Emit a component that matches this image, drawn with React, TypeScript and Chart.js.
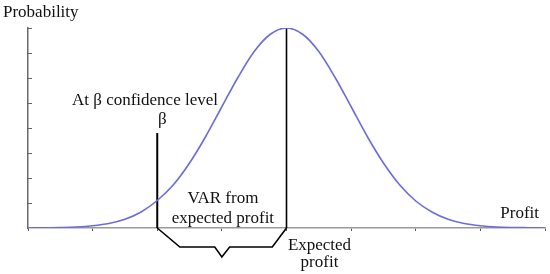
import React, { useEffect, useRef } from "react";
import { Chart, registerables } from "chart.js";

Chart.register(...registerables);

// Profit axis positions (in tick units) and probability readings of the bell curve
const curveX = [0, 0.25, 0.5, 0.75, 1, 1.25, 1.5, 1.75, 2, 2.25, 2.5, 2.75, 3, 3.25, 3.5, 3.75, 4,
  4.25, 4.5, 4.75, 5, 5.25, 5.5, 5.75, 6, 6.25, 6.5, 6.75, 7, 7.25, 7.5, 7.75, 8];
const curveY = [0, 0.01, 0.02, 0.04, 0.09, 0.18, 0.35, 0.64, 1.1, 1.73, 2.6, 3.66, 4.85, 6.03, 7.06, 7.75, 8,
  7.75, 7.06, 6.03, 4.85, 3.66, 2.6, 1.73, 1.08, 0.64, 0.35, 0.18, 0.09, 0.04, 0.02, 0.01, 0];

// β confidence level marker
const betaX = [2, 2];
const betaY = [0, 3.8];

// Expected profit marker
const expectedX = [4, 4];
const expectedY = [0, 8];

// Brace below the axis spanning VAR
const braceX = [2, 2.35, 2.89, 3.0, 3.12, 3.78, 4];
const braceY = [0, -0.76, -0.76, -1.16, -0.76, -0.76, 0];

// Axis tick values
const xTicks = [0, 1, 2, 3, 4, 5, 6, 7, 8];
const yTicks = [1, 2, 3, 4, 5, 6, 7, 8];

const pts = (xs: number[], ys: number[]) => xs.map((x, i) => ({ x, y: ys[i] }));

const FONT = '17px "Liberation Serif", "DejaVu Serif", serif';

const overlayPlugin = {
  id: "overlay",
  afterDatasetsDraw(chart: any) {
    const { ctx, chartArea } = chart;
    const xs = chart.scales.x;
    const ys = chart.scales.y;
    ctx.save();
    // inward y ticks
    ctx.strokeStyle = "#666";
    ctx.lineWidth = 1;
    yTicks.forEach((v) => {
      const py = Math.round(ys.getPixelForValue(v)) + 0.5;
      ctx.beginPath();
      ctx.moveTo(chartArea.left, py);
      ctx.lineTo(chartArea.left + 4, py);
      ctx.stroke();
    });
    // texts
    ctx.fillStyle = "#111";
    ctx.font = FONT;
    ctx.textBaseline = "alphabetic";
    ctx.textAlign = "left";
    ctx.fillText("Probability", 3, 17);
    ctx.fillText("At β confidence level", 72, 104.5);
    ctx.textAlign = "center";
    const bx = xs.getPixelForValue(betaX[0]);
    ctx.fillText("β", bx + 5, 124);
    const vx = xs.getPixelForValue(3);
    ctx.fillText("VAR from", vx + 1, 203);
    ctx.fillText("expected profit", vx + 1, 223);
    const ex = xs.getPixelForValue(expectedX[0]);
    ctx.fillText("Expected", ex + 33, 250);
    ctx.fillText("profit", ex + 33, 267);
    ctx.textAlign = "right";
    ctx.fillText("Profit", 539, 217.5);
    ctx.restore();
  },
};

export default function App() {
  const ref = useRef<HTMLCanvasElement>(null);
  useEffect(() => {
    if (!ref.current) return;
    const chart = new Chart(ref.current, {
      type: "line",
      data: {
        datasets: [
          {
            data: pts(curveX, curveY),
            borderColor: "#6c6cdc",
            borderWidth: 1.6,
            pointRadius: 0,
            cubicInterpolationMode: "monotone",
            fill: false,
          },
          {
            data: pts(betaX, betaY),
            borderColor: "#000",
            borderWidth: 2,
            pointRadius: 0,
            tension: 0,
            clip: false,
          },
          {
            data: pts(expectedX, expectedY),
            borderColor: "#000",
            borderWidth: 1.6,
            pointRadius: 0,
            tension: 0,
            clip: false,
          },
          {
            data: pts(braceX, braceY),
            borderColor: "#000",
            borderWidth: 1.6,
            pointRadius: 0,
            tension: 0,
            clip: false,
          },
        ] as any,
      },
      options: {
        animation: false,
        responsive: false,
        events: [],
        layout: { padding: { top: 28, right: 5, left: 0, bottom: 0 } },
        plugins: { legend: { display: false }, tooltip: { enabled: false } },
        scales: {
          x: {
            type: "linear",
            min: 0,
            max: 8,
            afterBuildTicks: (scale: any) => {
              scale.ticks = xTicks.map((v) => ({ value: v }));
            },
            afterFit: (scale: any) => {
              scale.height = 46;
            },
            ticks: { display: false },
            grid: { drawOnChartArea: false, drawTicks: true, tickLength: 3, color: "#555", lineWidth: 1 },
            border: { display: true, color: "#9a9a9a", width: 1.5 },
          },
          y: {
            type: "linear",
            min: 0,
            max: 8,
            afterFit: (scale: any) => {
              scale.width = 28;
            },
            ticks: { display: false },
            grid: { display: false },
            border: { display: true, color: "#6a6a6a", width: 1.5 },
          },
        },
      } as any,
      plugins: [overlayPlugin],
    });
    return () => chart.destroy();
  }, []);
  return (
    <div style={{ position: "absolute", left: 0, top: 0, width: 550, height: 274, background: "#fff" }}>
      <canvas ref={ref} width={550} height={274} style={{ display: "block" }} />
    </div>
  );
}
